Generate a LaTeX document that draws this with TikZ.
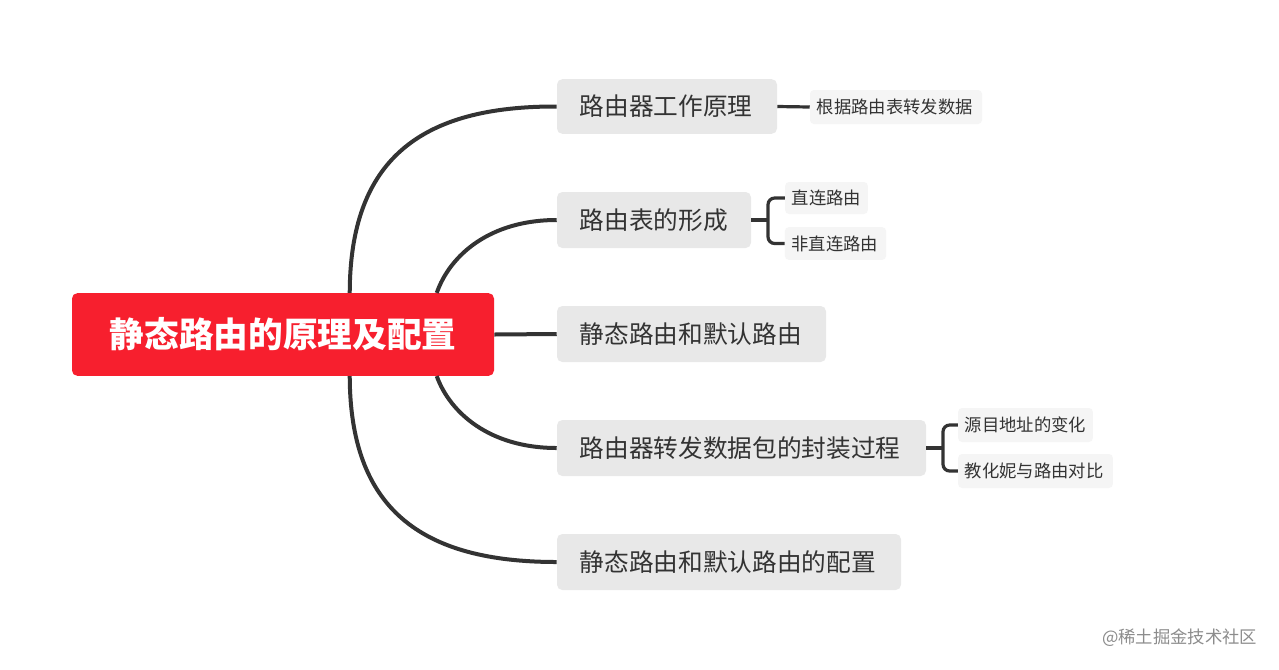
\documentclass[tikz,border=0pt]{standalone}
\usepackage{fontspec}
\setmainfont{Noto Sans CJK SC}
\begin{document}
\begin{tikzpicture}[x=0.75pt,y=-0.75pt,
  conn/.style={draw=black!80,line width=3pt},
  lconn/.style={draw=black!80,line width=2.4pt,rounded corners=5pt},
  br/.style={fill=black!9,rounded corners=4pt,inner ysep=0pt,inner xsep=17pt,align=left,font=\fontsize{18.5}{20}\selectfont,text=black!80},
  lf/.style={fill=black!4,rounded corners=3pt,inner ysep=0pt,inner xsep=5pt,align=left,font=\fontsize{13}{15}\selectfont,text=black!80}]
\useasboundingbox[fill=white] (0,0) rectangle (1279,669);
\node[fill={rgb,255:red,247;green,31;blue,46},rounded corners=4pt,minimum width=316.5pt,minimum height=62pt,text=white,font=\fontsize{26}{28}\selectfont\bfseries] (root) at (283,334.5) {静态路由的原理及配置};
\node[br,text width=131pt,minimum height=41pt] (b1) at (667,106.5) {路由器工作原理};
\node[br,text width=111.5pt,minimum height=42pt] (b2) at (654,220) {路由表的形成};
\node[br,text width=167.75pt,minimum height=42pt] (b3) at (691.5,334) {静态路由和默认路由};
\node[br,text width=242.75pt,minimum height=42pt] (b4) at (741.5,448) {路由器转发数据包的封装过程};
\node[br,text width=224pt,minimum height=42pt] (b5) at (729,562) {静态路由和默认路由的配置};
\node[lf,text width=119pt,minimum height=25.5pt] (l1) at (896,107) {根据路由表转发数据};
\node[lf,text width=52pt,minimum height=24pt] (l2) at (826.5,198) {直连路由};
\node[lf,text width=66pt,minimum height=24.5pt] (l3) at (835.5,243.5) {非直连路由};
\node[lf,text width=91pt,minimum height=25.5pt] (l4) at (1025.5,425) {源目地址的变化};
\node[lf,text width=106pt,minimum height=25.5pt] (l5) at (1035.5,471) {教化妮与路由对比};
\node[text=black!45,font=\fontsize{13}{15}\selectfont,anchor=east] (wm) at (1262,638) {@稀土掘金技术社区};
\draw[conn] (root.north west) ++(278,0) coordinate (s1) .. controls (350,160) and (420,106) .. (b1.west);
\draw[conn] (root.north west) ++(365,0) coordinate (s2) .. controls (450,255) and (490,220) .. (b2.west);
\draw[conn] (root.east) -- (b3.west);
\draw[conn] (root.south west) ++(365,0) coordinate (s4) .. controls (450,413) and (490,448) .. (b4.west);
\draw[conn] (root.south west) ++(278,0) coordinate (s5) .. controls (350,508) and (420,562) .. (b5.west);
\draw[lconn] (b1.east) -- (l1.west);
\draw[lconn] (b2.east) -- (768,220) coordinate (j2);
\draw[lconn] (l2.west) -| (j2) |- (l3.west);
\draw[lconn] (b4.east) -- (943,448) coordinate (j4);
\draw[lconn] (l4.west) -| (j4) |- (l5.west);
\end{tikzpicture}
\end{document}
